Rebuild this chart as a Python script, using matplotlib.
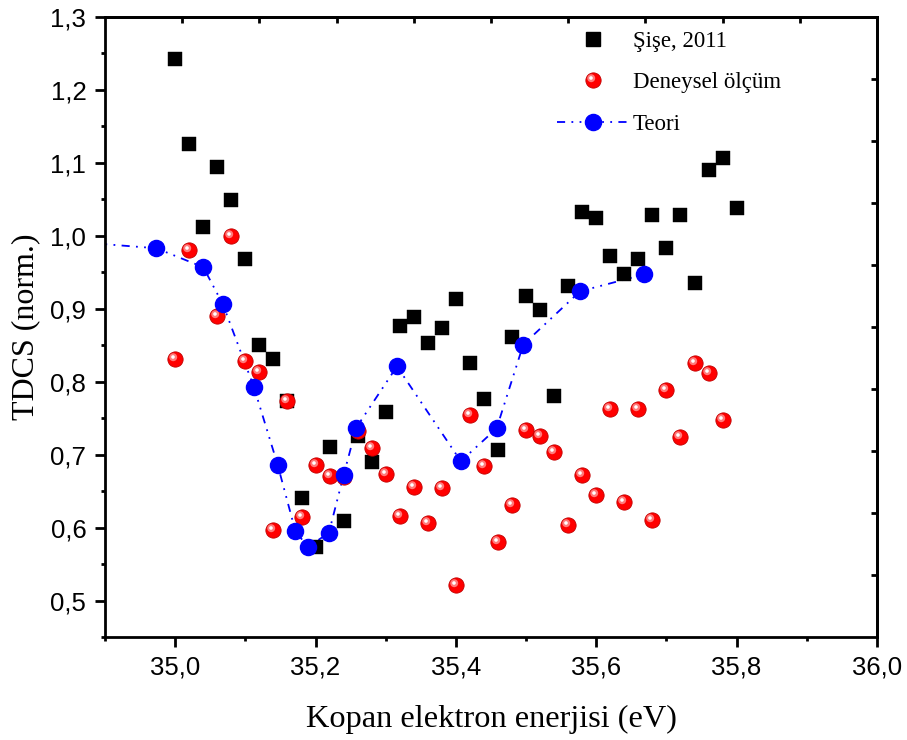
import numpy as np
import matplotlib
matplotlib.use("Agg")
import matplotlib.pyplot as plt
from matplotlib.path import Path
from matplotlib.lines import Line2D
from matplotlib.legend_handler import HandlerTuple
from matplotlib.ticker import MultipleLocator, FixedLocator, FuncFormatter, NullFormatter

# ---------------- data ----------------
sise_x = [35.00, 35.02, 35.04, 35.06, 35.08, 35.10, 35.12, 35.14, 35.16, 35.18,
          35.20, 35.22, 35.24, 35.26, 35.28, 35.30, 35.32, 35.34, 35.36, 35.38,
          35.40, 35.42, 35.44, 35.46, 35.48, 35.50, 35.52, 35.54, 35.56, 35.58,
          35.60, 35.62, 35.64, 35.66, 35.68, 35.70, 35.72, 35.74, 35.76, 35.78, 35.80]
sise_y = [1.243, 1.126, 1.012, 1.094, 1.049, 0.968, 0.851, 0.831, 0.774, 0.641,
          0.573, 0.710, 0.609, 0.725, 0.690, 0.759, 0.877, 0.889, 0.853, 0.873,
          0.914, 0.825, 0.776, 0.707, 0.861, 0.918, 0.898, 0.781, 0.931, 1.032,
          1.024, 0.972, 0.948, 0.968, 1.029, 0.984, 1.029, 0.936, 1.090, 1.107, 1.038]

olcum_x = [35.00, 35.02, 35.06, 35.08, 35.10, 35.12, 35.14, 35.16, 35.18, 35.20,
           35.22, 35.24, 35.26, 35.28, 35.30, 35.32, 35.34, 35.36, 35.38, 35.40,
           35.42, 35.44, 35.46, 35.48, 35.50, 35.52, 35.54, 35.56, 35.58, 35.60,
           35.62, 35.64, 35.66, 35.68, 35.70, 35.72, 35.74, 35.76, 35.78]
olcum_y = [0.831, 0.980, 0.890, 1.000, 0.829, 0.813, 0.597, 0.774, 0.615, 0.686,
           0.671, 0.669, 0.732, 0.709, 0.674, 0.616, 0.656, 0.606, 0.654, 0.521,
           0.754, 0.685, 0.580, 0.631, 0.734, 0.725, 0.703, 0.604, 0.672, 0.645,
           0.762, 0.635, 0.763, 0.610, 0.788, 0.724, 0.825, 0.812, 0.747]

teori_x = [34.88, 34.973, 35.040, 35.068, 35.112, 35.146, 35.171, 35.189, 35.219,
           35.240, 35.258, 35.316, 35.407, 35.458, 35.496, 35.577, 35.668]
teori_y = [0.990, 0.983, 0.957, 0.906, 0.793, 0.686, 0.596, 0.573, 0.593,
           0.672, 0.737, 0.821, 0.691, 0.736, 0.851, 0.924, 0.947]

labels = ["Şişe, 2011", "Deneysel ölçüm", "Teori"]
x_label = "Kopan elektron enerjisi (eV)"
y_label = "TDCS (norm.)"

# ---------------- style ----------------
serif = ["Liberation Serif", "DejaVu Serif"]
sans = ["Liberation Sans", "DejaVu Sans"]

fig = plt.figure(figsize=(9.07, 7.40), dpi=100)
ax = fig.add_axes([0.1158, 0.1392, 0.8511, 0.8378])

# sphere highlight markers (offset circles inside marker box)
def offset_circle(a, r):
    return Path.circle((-a, a), r)

halo_marker = offset_circle(0.575, 1.0)
core_marker = offset_circle(1.39, 1.0)

ms_sq = 9.6
ms_red = 11.0
ms_blue = 11.6
dash = (0, (4.5, 3.5, 1, 3.5, 1, 3.5))

# teori line
ax.plot(teori_x, teori_y, color="#0000ff", lw=1.3, linestyle=dash, zorder=2)

ax.plot(sise_x, sise_y, ls="none", marker="s", ms=ms_sq,
        color="black", mec="black", mew=0.3, zorder=3)

ax.plot(olcum_x, olcum_y, ls="none", marker="o", ms=ms_red,
        mfc="#ff0000", mec="#c00000", mew=0.6, zorder=4)
ax.plot(olcum_x, olcum_y, ls="none", marker=halo_marker, ms=9.0,
        mfc="#ff7a7a", mec="none", zorder=4.1)
ax.plot(olcum_x, olcum_y, ls="none", marker=core_marker, ms=6.2,
        mfc="#ffffff", mec="none", zorder=4.2)

ax.plot(teori_x, teori_y, ls="none", marker="o", ms=ms_blue,
        mfc="#0000ff", mec="#0000ff", zorder=5)

ax.set_xlim(34.9, 36.0)
ax.set_ylim(0.45, 1.3)

comma = FuncFormatter(lambda v, p: f"{v:.1f}".replace(".", ","))
ax.xaxis.set_major_locator(MultipleLocator(0.2))
ax.xaxis.set_minor_locator(MultipleLocator(0.1))
ax.yaxis.set_major_locator(MultipleLocator(0.1))
ax.yaxis.set_minor_locator(MultipleLocator(0.05))
ax.xaxis.set_major_formatter(comma)
ax.yaxis.set_major_formatter(comma)

for s in ax.spines.values():
    s.set_linewidth(2.0)

ax.tick_params(which="major", direction="out", length=7.5, width=2.0,
               labelsize=18.5, pad=6, top=False, right=False)
ax.tick_params(which="minor", direction="out", length=3.0, width=2.0,
               top=False, right=False)
for lab in ax.get_xticklabels() + ax.get_yticklabels():
    lab.set_family(sans)

# top / right decorative ticks (10 equal divisions)
top = ax.secondary_xaxis("top")
top.xaxis.set_major_locator(FixedLocator(list(np.linspace(34.9, 36.0, 11)[1:-1])))
top.xaxis.set_major_formatter(NullFormatter())
top.tick_params(direction="in", length=4.3, width=2.0)
top.spines["top"].set_linewidth(2.0)
right = ax.secondary_yaxis("right")
right.yaxis.set_major_locator(FixedLocator(list(np.linspace(0.45, 1.3, 11)[1:-1])))
right.yaxis.set_major_formatter(NullFormatter())
right.tick_params(direction="in", length=4.3, width=2.0)
right.spines["right"].set_linewidth(2.0)

ax.set_xlabel(x_label, family=serif, fontsize=23.3, labelpad=18)
ax.set_ylabel(y_label, family=serif, fontsize=23, labelpad=7)

# legend
h_sq = Line2D([], [], ls="none", marker="s", ms=ms_sq, color="black")
h_red = (Line2D([], [], ls="none", marker="o", ms=ms_red, mfc="#ff0000", mec="#c00000", mew=0.6),
         Line2D([], [], ls="none", marker=halo_marker, ms=9.0, mfc="#ff7a7a", mec="none"),
         Line2D([], [], ls="none", marker=core_marker, ms=6.2, mfc="#ffffff", mec="none"))
h_blue = Line2D([], [], color="#0000ff", lw=1.3, linestyle=dash,
                marker="o", ms=ms_blue, mfc="#0000ff", mec="#0000ff")
leg = ax.legend([h_sq, h_red, h_blue], labels,
                handler_map={tuple: HandlerTuple(ndivide=1, pad=0)},
                loc="upper left", bbox_to_anchor=(0.574, 0.992),
                frameon=False, prop={"family": serif, "size": 16.5},
                handlelength=3.1, handletextpad=0.2, labelspacing=0.88,
                borderaxespad=0.0, numpoints=1)

fig.savefig("out.png", dpi=100)
